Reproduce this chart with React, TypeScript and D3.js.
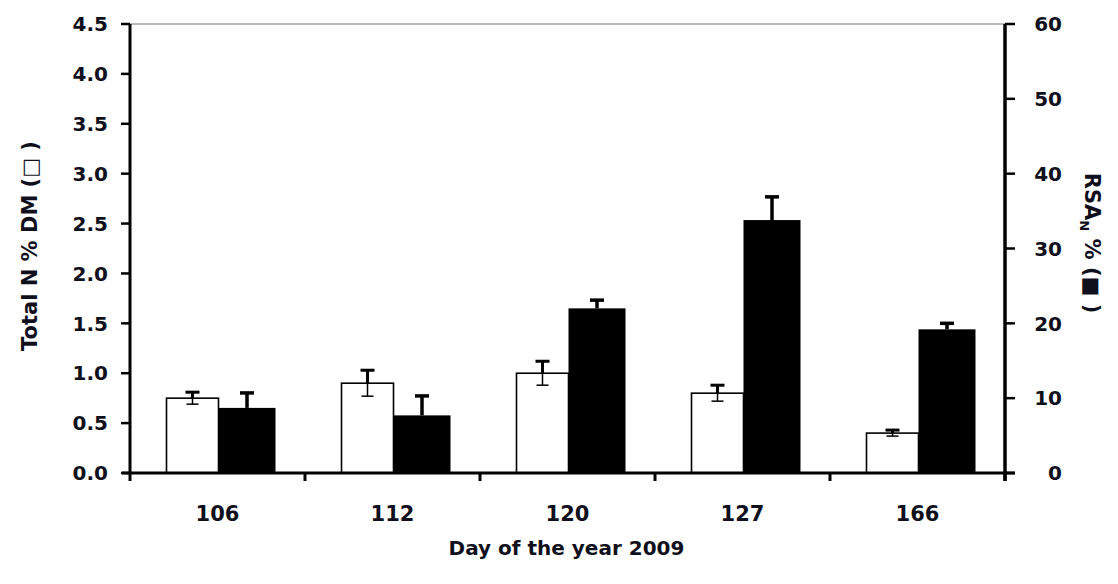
import React from 'react';
import * as d3 from 'd3';

const days = ['106', '112', '120', '127', '166'];
const totalN = [0.75, 0.9, 1.0, 0.8, 0.4];
const totalNErr = [0.06, 0.13, 0.12, 0.08, 0.03];
const rsaN = [8.7, 7.7, 22.0, 33.8, 19.2];
const rsaNErr = [2.0, 2.6, 1.1, 3.1, 0.8];
const leftTicks = [0, 0.5, 1, 1.5, 2, 2.5, 3, 3.5, 4, 4.5];
const rightTicks = [0, 10, 20, 30, 40, 50, 60];

const W = 1118, H = 584;
const left = 130, right = 1005, top = 24, bottom = 473;
const ink = '#10101c';
const font = '"DejaVu Sans", Arial, sans-serif';

const App = () => {
  const x = d3.scaleBand<string>().domain(days).range([left, right]).padding(0);
  const yL = d3.scaleLinear().domain([0, 4.5]).range([bottom, top]);
  const yR = d3.scaleLinear().domain([0, 60]).range([bottom, top]);
  const bw = x.bandwidth();
  const boundaries = days.map(d => x(d)!).concat([right]);

  return (
    <svg width={W} height={H} style={{ position: 'absolute', left: 0, top: 0, background: '#fff' }}
      fontFamily={font} fontWeight="bold" fill={ink}>
      {/* top frame line */}
      <line x1={left} x2={right} y1={top} y2={top} stroke="#777" strokeWidth={1.2} />

      {/* bars */}
      {days.map((d, i) => {
        const c = x(d)! + bw / 2;
        const wx0 = c - 51, wx1 = c + 1;
        const bx0 = c + 1, bx1 = c + 58;
        const wTop = yL(totalN[i]);
        const bTop = yR(rsaN[i]);
        const wc = (wx0 + wx1) / 2;
        const bc = (bx0 + bx1) / 2;
        const eUp = yL(totalN[i] + totalNErr[i]);
        const eDn = yL(totalN[i] - totalNErr[i]);
        const rUp = yR(rsaN[i] + rsaNErr[i]);
        return (
          <g key={d}>
            <rect x={wx0} y={wTop} width={wx1 - wx0} height={bottom - wTop} fill="#fff" stroke="#000" strokeWidth={1.6} />
            <line x1={wc} x2={wc} y1={eUp} y2={wTop} stroke="#000" strokeWidth={3} />
            <line x1={wc} x2={wc} y1={wTop} y2={eDn} stroke="#000" strokeWidth={1.5} />
            <line x1={wc - 7} x2={wc + 7} y1={eUp} y2={eUp} stroke="#000" strokeWidth={3} />
            <line x1={wc - 6} x2={wc + 6} y1={eDn} y2={eDn} stroke="#000" strokeWidth={1.5} />
            <rect x={bx0} y={bTop} width={bx1 - bx0} height={bottom - bTop} fill="#000" />
            <line x1={bc} x2={bc} y1={rUp} y2={bTop} stroke="#000" strokeWidth={3.5} />
            <line x1={bc - 7} x2={bc + 7} y1={rUp} y2={rUp} stroke="#000" strokeWidth={3.5} />
          </g>
        );
      })}

      {/* x axis */}
      <line x1={left - 8} x2={right + 10} y1={bottom} y2={bottom} stroke="#000" strokeWidth={2.8} />
      {boundaries.map((b, i) => (
        <line key={i} x1={b} x2={b} y1={bottom} y2={bottom + 8} stroke="#000" strokeWidth={3} />
      ))}
      {days.map(d => (
        <text key={d} x={x(d)! + bw / 2} y={521} textAnchor="middle" fontSize={21}>{d}</text>
      ))}
      <text x={(left + right) / 2 - 1} y={555} textAnchor="middle" fontSize={20}>Day of the year 2009</text>

      {/* left axis */}
      <line x1={left} x2={left} y1={top} y2={bottom + 1} stroke="#000" strokeWidth={3} />
      {leftTicks.map(t => (
        <g key={t}>
          <line x1={left - 9} x2={left} y1={yL(t)} y2={yL(t)} stroke="#000" strokeWidth={2.5} />
          <text x={108} y={yL(t)} dy="0.36em" textAnchor="end" fontSize={20}>{t.toFixed(1)}</text>
        </g>
      ))}
      <text transform={`translate(37,${246}) rotate(-90)`} textAnchor="middle" fontSize={21}>Total N % DM (□ )</text>

      {/* right axis */}
      <line x1={right} x2={right} y1={top} y2={bottom + 8} stroke="#000" strokeWidth={3.5} />
      {rightTicks.map(t => (
        <g key={t}>
          <line x1={right} x2={right + 10} y1={yR(t)} y2={yR(t)} stroke="#000" strokeWidth={2.5} />
          <text x={1062} y={yR(t)} dy="0.36em" textAnchor="end" fontSize={20}>{t}</text>
        </g>
      ))}
      <text transform={`translate(1085,${243}) rotate(90)`} textAnchor="middle" fontSize={21}>
        RSA<tspan fontSize={13} dy={5}>N</tspan><tspan dy={-5}> % (■ )</tspan>
      </text>
    </svg>
  );
};

export default App;
